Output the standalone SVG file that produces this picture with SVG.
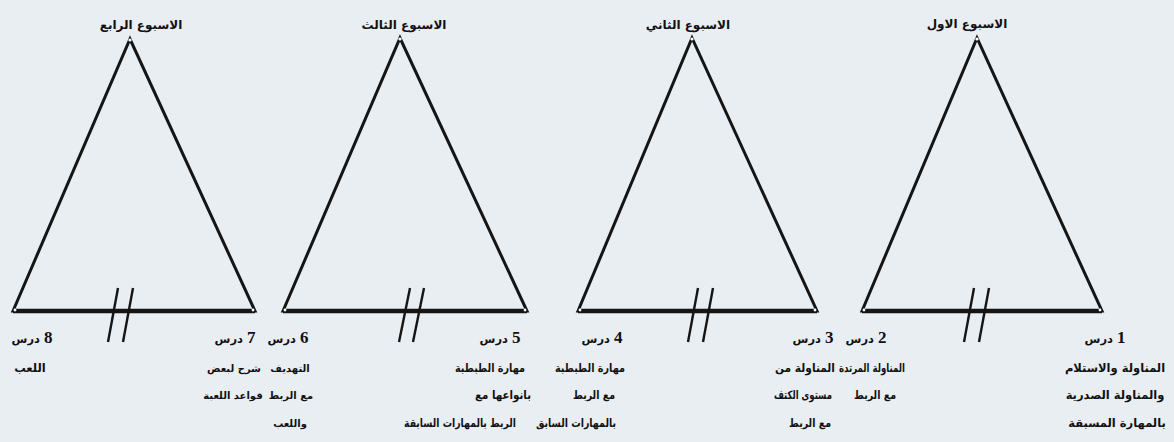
<svg xmlns="http://www.w3.org/2000/svg" width="1174" height="442" viewBox="0 0 1174 442">
<style>
.bg{fill:#e9eef2}
.tri{fill:none;stroke:#151515;stroke-width:3;stroke-linejoin:miter}
.base{stroke:#151515;stroke-width:4.5}
.sl{stroke:#151515;stroke-width:2.4}
.pt{fill:#ffffff}
.t{font-family:'DejaVu Sans',sans-serif;font-weight:bold;font-size:11.5px;fill:#111;text-anchor:middle}
.s{font-size:10px}
.wk{font-size:12px}
.n{font-family:'Liberation Serif',serif;font-size:17px}
</style>
<rect class="bg" x="0" y="0" width="1174" height="442"/>

<g id="week4">
  <polygon class="tri" points="13,311 130,39 255,311"/>
  <line class="base" x1="13" y1="311" x2="255" y2="311"/>
  <circle class="pt" cx="130" cy="40" r="1.6"/><circle class="pt" cx="15" cy="310" r="1.4"/><circle class="pt" cx="253" cy="310" r="1.4"/>
  <text class="t wk" x="141" y="29">الاسبوع الرابع</text>
</g>
<g id="week3">
  <polygon class="tri" points="283,311 400,38 527,311"/>
  <line class="base" x1="283" y1="311" x2="527" y2="311"/>
  <circle class="pt" cx="400" cy="39" r="1.6"/><circle class="pt" cx="285" cy="310" r="1.4"/><circle class="pt" cx="525" cy="310" r="1.4"/>
  <text class="t wk" x="404" y="29">الاسبوع الثالث</text>
</g>
<g id="week2">
  <polygon class="tri" points="578,311 692,38 817,311"/>
  <line class="base" x1="578" y1="311" x2="817" y2="311"/>
  <circle class="pt" cx="692" cy="39" r="1.6"/><circle class="pt" cx="580" cy="310" r="1.4"/><circle class="pt" cx="815" cy="310" r="1.4"/>
  <text class="t wk" x="688" y="29">الاسبوع الثاني</text>
</g>
<g id="week1">
  <polygon class="tri" points="862,311 977,38 1102,311"/>
  <line class="base" x1="862" y1="311" x2="1102" y2="311"/>
  <circle class="pt" cx="977" cy="39" r="1.6"/><circle class="pt" cx="864" cy="310" r="1.4"/><circle class="pt" cx="1100" cy="310" r="1.4"/>
  <text class="t wk" x="967" y="28">الاسبوع الاول</text>
</g>

<g id="connectors">
  <line class="sl" x1="118" y1="288" x2="108" y2="342"/><line class="sl" x1="133" y1="288" x2="123" y2="342"/>
  <line class="sl" x1="410" y1="288" x2="399" y2="342"/><line class="sl" x1="424" y1="288" x2="413" y2="342"/>
  <line class="sl" x1="698" y1="288" x2="688" y2="342"/><line class="sl" x1="713" y1="288" x2="703" y2="342"/>
  <line class="sl" x1="974" y1="288" x2="964" y2="342"/><line class="sl" x1="989" y1="288" x2="979" y2="342"/>
</g>

<g id="lesson8">
  <text class="t" x="32" y="343">درس&#x200E; <tspan class="n">8</tspan></text>
  <text class="t" x="30" y="372">اللعب</text>
</g>
<g id="lesson7">
  <text class="t" x="235" y="343">درس&#x200E; <tspan class="n">7</tspan></text>
  <text class="t s" x="234" y="372">شرح لبعض</text>
  <text class="t s" x="233" y="399">قواعد اللعبة</text>
</g>
<g id="lesson6">
  <text class="t" x="288" y="343">درس&#x200E; <tspan class="n">6</tspan></text>
  <text class="t s" x="290" y="372">التهديف</text>
  <text class="t s" x="291" y="399">مع الربط</text>
  <text class="t s" x="290" y="427">واللعب</text>
</g>
<g id="lesson5">
  <text class="t" x="500" y="343">درس&#x200E; <tspan class="n">5</tspan></text>
  <text class="t" x="490" y="372" textLength="70" lengthAdjust="spacingAndGlyphs">مهارة الطبطبة</text>
  <text class="t" x="503" y="399" textLength="56" lengthAdjust="spacingAndGlyphs">بانواعها مع</text>
  <text class="t" x="460" y="427" textLength="112" lengthAdjust="spacingAndGlyphs">الربط بالمهارات السابقة</text>
</g>
<g id="lesson4">
  <text class="t" x="602" y="343">درس&#x200E; <tspan class="n">4</tspan></text>
  <text class="t" x="590" y="372" textLength="70" lengthAdjust="spacingAndGlyphs">مهارة الطبطبة</text>
  <text class="t" x="594" y="399" textLength="42" lengthAdjust="spacingAndGlyphs">مع الربط</text>
  <text class="t" x="576" y="427" textLength="80" lengthAdjust="spacingAndGlyphs">بالمهارات السابق</text>
</g>
<g id="lesson3">
  <text class="t" x="813" y="343">درس&#x200E; <tspan class="n">3</tspan></text>
  <text class="t" x="805" y="372" textLength="60" lengthAdjust="spacingAndGlyphs">المناولة من</text>
  <text class="t" x="803" y="399" textLength="58" lengthAdjust="spacingAndGlyphs">مستوى الكتف</text>
  <text class="t" x="810" y="427" textLength="42" lengthAdjust="spacingAndGlyphs">مع الربط</text>
</g>
<g id="lesson2">
  <text class="t" x="866" y="343">درس&#x200E; <tspan class="n">2</tspan></text>
  <text class="t" x="872" y="372" textLength="66" lengthAdjust="spacingAndGlyphs">المناولة المرتدة</text>
  <text class="t" x="875" y="399" textLength="42" lengthAdjust="spacingAndGlyphs">مع الربط</text>
</g>
<g id="lesson1">
  <text class="t" x="1105" y="343">درس&#x200E; <tspan class="n">1</tspan></text>
  <text class="t" x="1115" y="372">المناولة والاستلام</text>
  <text class="t" x="1115" y="399">والمناولة الصدرية</text>
  <text class="t" x="1117" y="427">بالمهارة المسبقة</text>
</g>
</svg>
